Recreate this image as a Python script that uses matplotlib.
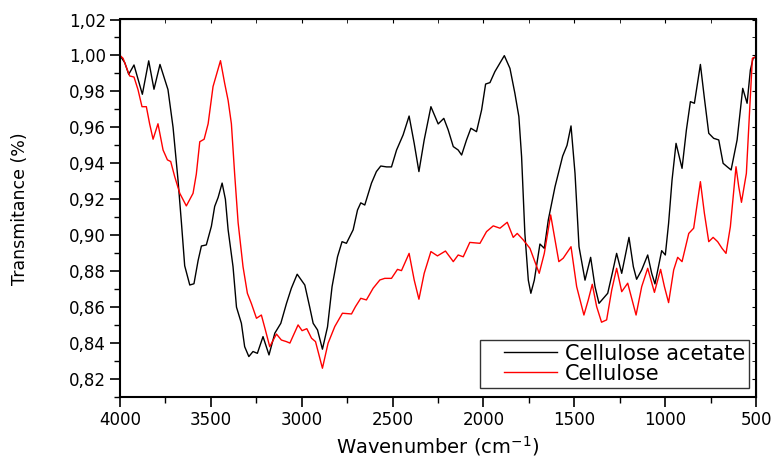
import matplotlib
matplotlib.use("Agg")
import numpy as np
import matplotlib.pyplot as plt
from matplotlib.ticker import MultipleLocator, FuncFormatter
from matplotlib.legend_handler import HandlerLine2D

# Cellulose acetate (black)
ca_x = [4000, 3974, 3952, 3923, 3877, 3842, 3813, 3780, 3736, 3708, 3681, 3662, 3644,
        3616, 3593, 3570, 3552, 3525, 3497, 3479, 3460, 3438, 3420, 3405, 3378, 3359,
        3332, 3314, 3291, 3268, 3244, 3213, 3180, 3148, 3115, 3084, 3057, 3025, 2983,
        2956, 2937, 2913, 2886, 2858, 2833, 2803, 2778, 2754, 2717, 2693, 2675, 2653,
        2616, 2589, 2565, 2533, 2506, 2478, 2442, 2409, 2381, 2355, 2326, 2289, 2249,
        2218, 2194, 2166, 2139, 2120, 2093, 2069, 2038, 2010, 1988, 1964, 1937, 1885,
        1854, 1827, 1805, 1790, 1772, 1753, 1739, 1720, 1689, 1665, 1643, 1606, 1564,
        1540, 1518, 1496, 1474, 1441, 1410, 1386, 1364, 1340, 1316, 1291, 1267, 1239,
        1199, 1175, 1157, 1129, 1096, 1074, 1056, 1037, 1019, 999, 981, 962, 940,
        907, 883, 861, 839, 806, 784, 760, 733, 705, 681, 659, 637, 604, 573, 549,
        531, 516, 500]
ca_y = [1.000, 0.996, 0.9895, 0.9947, 0.9784, 0.997, 0.9812, 0.995, 0.981, 0.960, 0.931,
        0.907, 0.883, 0.8723, 0.873, 0.886, 0.894, 0.8946, 0.905, 0.916, 0.921, 0.929,
        0.920, 0.903, 0.8825, 0.860, 0.851, 0.838, 0.8325, 0.8353, 0.8343, 0.8436,
        0.8334, 0.8455, 0.851, 0.862, 0.8705, 0.8783, 0.8723, 0.860, 0.851, 0.8473,
        0.8366, 0.849, 0.8714, 0.888, 0.8964, 0.8955, 0.903, 0.914, 0.918, 0.9168,
        0.929, 0.9354, 0.9385, 0.938, 0.938, 0.9474, 0.9558, 0.9663, 0.9511, 0.9354,
        0.953, 0.9715, 0.9619, 0.965, 0.9586, 0.9493, 0.9474, 0.9446, 0.953, 0.9595,
        0.9576, 0.9697, 0.9841, 0.9849, 0.991, 0.9999, 0.9928, 0.979, 0.966, 0.9437,
        0.901, 0.875, 0.8677, 0.875, 0.8951, 0.8927, 0.9085, 0.927, 0.9440, 0.9500,
        0.9608, 0.9344, 0.8936, 0.875, 0.8877, 0.8714, 0.8621, 0.8649, 0.8677, 0.8788,
        0.8899, 0.8788, 0.8988, 0.8825, 0.8755, 0.8807, 0.889, 0.8788, 0.8729, 0.8825,
        0.8914, 0.889, 0.9066, 0.9307, 0.9511, 0.9372, 0.9586, 0.9743, 0.9734, 0.995,
        0.9762, 0.9567, 0.9539, 0.953, 0.940, 0.9381, 0.9363, 0.953, 0.9817, 0.9734,
        0.9919, 0.9984, 0.9993]

# Cellulose (red)
ce_x = [4000, 3983, 3947, 3923, 3901, 3879, 3855, 3837, 3818, 3791, 3763, 3739, 3721,
        3699, 3671, 3635, 3598, 3580, 3561, 3537, 3515, 3488, 3447, 3424, 3405, 3387,
        3369, 3350, 3323, 3299, 3277, 3249, 3222, 3200, 3176, 3139, 3112, 3084, 3065,
        3020, 2998, 2972, 2946, 2924, 2886, 2855, 2818, 2776, 2726, 2704, 2675, 2644,
        2607, 2570, 2543, 2506, 2473, 2451, 2409, 2381, 2355, 2326, 2289, 2253, 2209,
        2170, 2166, 2139, 2111, 2075, 2019, 1983, 1946, 1909, 1869, 1836, 1814, 1781,
        1744, 1717, 1693, 1665, 1630, 1606, 1585, 1561, 1518, 1487, 1447, 1423, 1401,
        1377, 1350, 1322, 1294, 1267, 1239, 1206, 1160, 1129, 1096, 1059, 1025, 1004,
        981, 953, 931, 907, 870, 843, 806, 784, 760, 736, 711, 687, 665, 641, 610,
        595, 580, 553, 534, 520, 500]
ce_y = [1.000, 0.9984, 0.9886, 0.988, 0.981, 0.9715, 0.9715, 0.962, 0.9534, 0.962, 0.9474,
        0.9419, 0.941, 0.9326, 0.9233, 0.9163, 0.9233, 0.934, 0.952, 0.9534, 0.962,
        0.9827, 0.9971, 0.9845, 0.975, 0.962, 0.934, 0.907, 0.8825, 0.8677, 0.862,
        0.8538, 0.8556, 0.8473, 0.838, 0.845, 0.8417, 0.8408, 0.840, 0.8501, 0.8469,
        0.848, 0.8427, 0.8408, 0.826, 0.8399, 0.8492, 0.8566, 0.8562, 0.8603, 0.8649,
        0.864, 0.8705, 0.8751, 0.876, 0.876, 0.881, 0.8803, 0.8899, 0.8751, 0.8644,
        0.8788, 0.8909, 0.8885, 0.8912, 0.8859, 0.8853, 0.889, 0.888, 0.896, 0.8955,
        0.902, 0.9052, 0.9039, 0.9072, 0.8988, 0.901, 0.8974, 0.8927, 0.8853, 0.8788,
        0.8899, 0.9113, 0.8974, 0.8853, 0.8872, 0.8936, 0.8714, 0.8556, 0.864, 0.8727,
        0.8603, 0.8516, 0.8529, 0.8695, 0.8816, 0.8686, 0.8733, 0.8556, 0.8714, 0.8816,
        0.8682, 0.881, 0.8714, 0.8625, 0.8807, 0.8877, 0.8853, 0.901, 0.9039, 0.9298,
        0.9122, 0.8964, 0.8988, 0.8964, 0.8927, 0.8899, 0.9048, 0.9381, 0.927, 0.9183,
        0.9344, 0.9715, 0.9984, 0.9993]

series_labels = ["Cellulose acetate", "Cellulose"]
x_ticks = [4000, 3500, 3000, 2500, 2000, 1500, 1000, 500]
y_ticks = [0.82, 0.84, 0.86, 0.88, 0.90, 0.92, 0.94, 0.96, 0.98, 1.00, 1.02]


class OffsetLineHandler(HandlerLine2D):
    """Legend line drawn only in the right part of the handle box."""
    def get_xdata(self, legend, xdescent, ydescent, width, height, fontsize):
        xdata = np.array([-xdescent + 0.27 * width, -xdescent + width])
        return xdata, xdata


plt.rcParams['font.family'] = ['DejaVu Sans']
fig = plt.figure(figsize=(7.74, 4.61), dpi=100)
ax = fig.add_axes([120/774, 1-397/461, (756-120)/774, (397-19.5)/461])

ax.plot(ca_x, ca_y, color='black', lw=1.0, label=series_labels[0])
ax.plot(ce_x, ce_y, color='#ff0000', lw=1.0, label=series_labels[1])

ax.set_xlim(4000, 500)
ax.set_ylim(0.81, 1.02)
ax.set_xticks(x_ticks)
ax.set_yticks(y_ticks)
ax.xaxis.set_minor_locator(MultipleLocator(250))
ax.yaxis.set_minor_locator(MultipleLocator(0.01))
ax.yaxis.set_major_formatter(FuncFormatter(lambda v, p: f"{v:.2f}".replace('.', ',')))
ax.tick_params(axis='both', which='major', direction='out', length=7, width=1.2,
               labelsize=12, pad=3)
ax.tick_params(axis='both', which='minor', direction='out', length=4, width=1.0)
for s in ax.spines.values():
    s.set_linewidth(1.5)

# top and right inward ticks
top = ax.secondary_xaxis('top')
top.set_xticks(x_ticks)
top.xaxis.set_minor_locator(MultipleLocator(250))
top.tick_params(which='both', direction='in', length=3, labeltop=False)
right = ax.secondary_yaxis('right')
right.set_yticks(y_ticks)
right.yaxis.set_minor_locator(MultipleLocator(0.01))
right.tick_params(which='both', direction='in', length=3, labelright=False)

ax.set_xlabel("Wavenumber (cm$^{-1}$)", fontsize=14, labelpad=4)
ax.set_ylabel("Transmitance (%)", fontsize=12.5, labelpad=29)

leg = ax.legend(loc='lower right', bbox_to_anchor=(0.989, 0.024), borderaxespad=0,
                fontsize=15, frameon=True, fancybox=False, edgecolor='black',
                handlelength=3.5, handletextpad=0.35, labelspacing=0.0, borderpad=0.2,
                handler_map={plt.Line2D: OffsetLineHandler()})
leg.get_frame().set_linewidth(1.0)

fig.savefig("out.png", dpi=100)
